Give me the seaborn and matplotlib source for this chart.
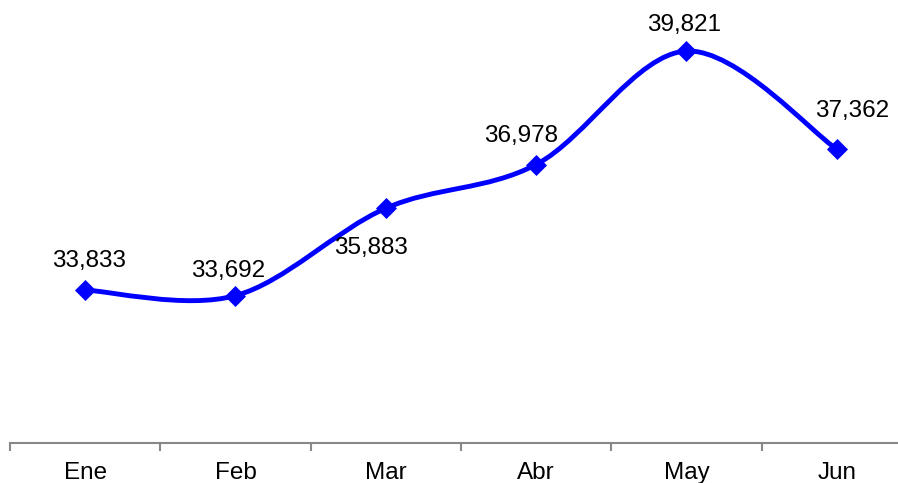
import numpy as np
import pandas as pd
import matplotlib
matplotlib.use('Agg')
import matplotlib.pyplot as plt
from matplotlib.path import Path
from matplotlib.patches import PathPatch
import seaborn as sns

# --- Data ---
months = ['Ene', 'Feb', 'Mar', 'Abr', 'May', 'Jun']
values = [33833, 33692, 35883, 36978, 39821, 37362]
labels = ['33,833', '33,692', '35,883', '36,978', '39,821', '37,362']
# label offsets in pixels (dx, dy) from each point
label_offsets = [(4, 29), (-7, 25), (-15, -40), (-15, 29), (-2, 26), (15, 38)]

df = pd.DataFrame({'month': months, 'value': values, 'x': range(len(months))})

sns.set_style('white')
plt.rcParams['font.family'] = ['Liberation Sans', 'DejaVu Sans']

fig = plt.figure(figsize=(8.98, 4.83), dpi=100)
ax = fig.add_axes([10 / 898, 40 / 483, 902 / 898, 439 / 483])

# --- Smoothed line (Excel-style Bezier through the points) ---
pts = df[['x', 'value']].to_numpy(dtype=float)
n = len(pts)
verts = [tuple(pts[0])]
codes = [Path.MOVETO]
for i in range(n - 1):
    p_prev = pts[i - 1] if i > 0 else pts[i]
    p0, p1 = pts[i], pts[i + 1]
    p_next = pts[i + 2] if i + 2 < n else pts[i + 1]
    c1 = p0 + (p1 - p_prev) / 6
    c2 = p1 - (p_next - p0) / 6
    verts += [tuple(c1), tuple(c2), tuple(p1)]
    codes += [Path.CURVE4] * 3
curve = PathPatch(Path(verts, codes), facecolor='none', edgecolor='#0000FF',
                  lw=3.5, capstyle='round', joinstyle='round', zorder=2)
ax.add_patch(curve)

sns.scatterplot(data=df, x='x', y='value', marker='D', s=115, color='#0000FF',
                edgecolor='#0000FF', linewidth=0, ax=ax, zorder=3, legend=False)

# --- Data labels ---
for xi, yi, lab, (dx, dy) in zip(df['x'], df['value'], labels, label_offsets):
    ax.annotate(lab, (xi, yi), xytext=(dx, dy), textcoords='offset pixels',
                ha='center', va='center', fontsize=17.5, color='black')

# --- Axes styling ---
ax.set_xlim(-0.5, len(months) - 0.5)
ax.set_ylim(30000, 41000)
ax.set_yticks([])
ax.set_xticks(df['x'])
ax.set_xticklabels(months, fontsize=17.5, color='black')
ax.set_xticks(np.arange(-0.5, len(months), 1), minor=True)
ax.tick_params(axis='x', which='major', bottom=False, length=0, pad=14)
ax.tick_params(axis='x', which='minor', bottom=True, length=6, width=1.5,
               color='#888888', direction='out')
for s in ['top', 'right', 'left']:
    ax.spines[s].set_visible(False)
ax.spines['bottom'].set_color('#888888')
ax.spines['bottom'].set_linewidth(1.5)
ax.set_xlabel('')
ax.set_ylabel('')
ax.patch.set_alpha(0)

fig.savefig('out.png', dpi=100)
plt.close(fig)
